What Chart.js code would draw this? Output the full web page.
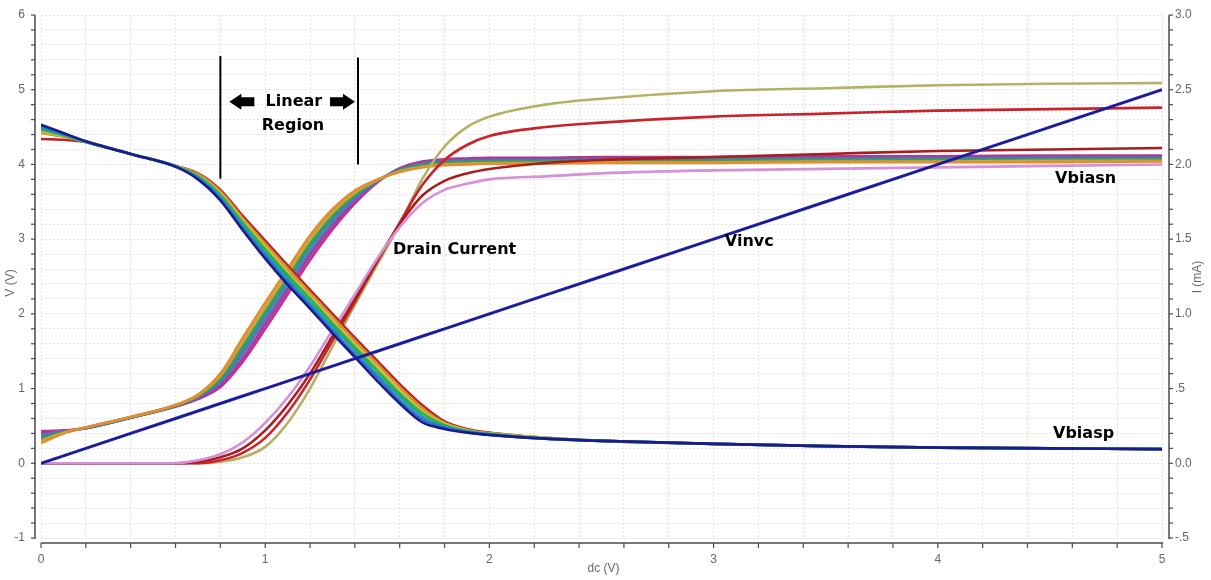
<!DOCTYPE html>
<html>
<head>
<meta charset="utf-8">
<script src="https://cdn.jsdelivr.net/npm/chart.js@4.4.1/dist/chart.umd.min.js"></script>
<style>
html,body{margin:0;padding:0;background:#fff;}
#wrap{width:1211px;height:580px;}
</style>
</head>
<body>
<div id="wrap"><canvas id="c" width="1211" height="580"></canvas></div>
<script>
// sweep points (dc, V)
const xs = [0,0.1,0.2,0.4,0.6,0.7,0.8,0.9,1.0,1.1,1.2,1.3,1.4,1.5,1.6,1.7,1.8,1.9,2.0,2.25,2.5,3.0,3.5,4.0,4.5,5.0];

// Vinvc (V)
const vinvc = [0,0.1,0.2,0.4,0.6,0.7,0.8,0.9,1.0,1.1,1.2,1.3,1.4,1.5,1.6,1.7,1.8,1.9,2.0,2.25,2.5,3.0,3.5,4.0,4.5,5.0];

// Vbiasp family (V), left to right
const vbiaspNavy   = [4.53,4.42,4.31,4.14,3.97,3.80,3.52,3.12,2.74,2.39,2.07,1.74,1.42,1.10,0.80,0.55,0.46,0.41,0.38,0.33,0.30,0.26,0.23,0.21,0.20,0.19];
const vbiaspBlue   = [4.51,4.41,4.31,4.14,3.97,3.81,3.54,3.15,2.78,2.43,2.11,1.78,1.46,1.15,0.84,0.59,0.48,0.42,0.38,0.33,0.30,0.26,0.23,0.21,0.20,0.19];
const vbiaspTeal   = [4.49,4.40,4.30,4.14,3.97,3.83,3.57,3.18,2.82,2.48,2.15,1.83,1.51,1.19,0.89,0.63,0.49,0.43,0.39,0.33,0.30,0.26,0.23,0.21,0.20,0.19];
const vbiaspGreen  = [4.47,4.39,4.30,4.14,3.98,3.84,3.59,3.22,2.86,2.52,2.20,1.87,1.55,1.24,0.93,0.67,0.51,0.43,0.39,0.33,0.30,0.26,0.23,0.21,0.20,0.19];
const vbiaspYellow = [4.44,4.38,4.30,4.14,3.98,3.85,3.61,3.25,2.90,2.56,2.24,1.91,1.59,1.28,0.97,0.70,0.53,0.44,0.40,0.34,0.30,0.26,0.23,0.21,0.20,0.19];
const vbiaspOrange = [4.42,4.37,4.30,4.14,3.98,3.87,3.64,3.28,2.94,2.61,2.28,1.96,1.64,1.33,1.02,0.74,0.54,0.45,0.40,0.34,0.30,0.26,0.23,0.21,0.20,0.19];
const vbiaspRed    = [4.34,4.33,4.30,4.14,3.98,3.88,3.66,3.31,2.98,2.65,2.32,2.00,1.68,1.37,1.06,0.78,0.56,0.46,0.41,0.34,0.30,0.26,0.23,0.21,0.20,0.19];

// Vbiasn family (V), left to right
const vbiasnOrange  = [0.27,0.40,0.48,0.62,0.78,0.92,1.20,1.68,2.15,2.60,3.05,3.40,3.65,3.80,3.90,3.96,3.99,4.00,4.01,4.01,4.02,4.02,4.03,4.03,4.03,4.04];
const vbiasnOlive   = [0.30,0.41,0.48,0.62,0.78,0.91,1.17,1.63,2.09,2.54,3.00,3.36,3.62,3.79,3.91,3.97,4.00,4.01,4.02,4.02,4.03,4.03,4.04,4.04,4.05,4.05];
const vbiasnGreen   = [0.33,0.41,0.48,0.62,0.77,0.90,1.14,1.57,2.03,2.49,2.94,3.31,3.59,3.79,3.92,3.99,4.02,4.03,4.04,4.04,4.05,4.05,4.06,4.06,4.06,4.07];
const vbiasnTeal    = [0.35,0.42,0.47,0.61,0.77,0.89,1.11,1.52,1.98,2.43,2.89,3.27,3.57,3.78,3.93,4.00,4.03,4.04,4.05,4.05,4.06,4.06,4.07,4.07,4.08,4.08];
const vbiasnSlate   = [0.38,0.43,0.47,0.61,0.77,0.88,1.08,1.47,1.92,2.37,2.83,3.22,3.54,3.77,3.93,4.01,4.04,4.05,4.06,4.06,4.07,4.07,4.08,4.08,4.09,4.09];
const vbiasnPurple  = [0.41,0.43,0.47,0.61,0.76,0.87,1.05,1.41,1.86,2.32,2.78,3.18,3.51,3.77,3.94,4.03,4.06,4.07,4.08,4.08,4.09,4.09,4.10,4.10,4.11,4.11];
const vbiasnMagenta = [0.43,0.44,0.47,0.61,0.76,0.86,1.02,1.36,1.80,2.26,2.72,3.13,3.48,3.76,3.95,4.04,4.07,4.08,4.09,4.09,4.10,4.10,4.11,4.11,4.12,4.12];

// drain current (mA), right axis
const idPink    = [0,0,0,0,0,0.02,0.06,0.14,0.27,0.44,0.65,0.89,1.13,1.37,1.58,1.74,1.83,1.87,1.90,1.92,1.94,1.96,1.97,1.98,1.99,2.00];
const idDarkRed = [0,0,0,0,0,0.01,0.04,0.10,0.22,0.39,0.60,0.85,1.10,1.36,1.60,1.79,1.89,1.94,1.97,2.01,2.03,2.05,2.07,2.09,2.10,2.11];
const idRed     = [0,0,0,0,0,0,0.02,0.07,0.17,0.34,0.56,0.82,1.08,1.35,1.61,1.86,2.03,2.13,2.19,2.25,2.28,2.32,2.34,2.36,2.37,2.38];
const idOlive   = [0,0,0,0,0,0,0.01,0.04,0.11,0.27,0.50,0.78,1.06,1.33,1.60,1.90,2.12,2.25,2.32,2.40,2.44,2.49,2.51,2.53,2.54,2.545];

const pts = arr => xs.map((x,i) => ({x: x, y: arr[i]}));

function line(label, arr, color, axis, width){
  return {
    label: label, data: pts(arr), yAxisID: axis || 'y',
    borderColor: color, borderWidth: width || 2.6,
    pointRadius: 0, fill: false, cubicInterpolationMode: 'monotone'
  };
}

const datasets = [
  Object.assign(line('Vinvc', vinvc, '#1c1c9e', 'y', 3), {cubicInterpolationMode: 'default', tension: 0}),
  line('Vbiasp 1', vbiaspNavy, '#1b1b8c'),
  line('Vbiasp 2', vbiaspBlue, '#2f72d0'),
  line('Vbiasp 3', vbiaspTeal, '#1aa3a6'),
  line('Vbiasp 4', vbiaspGreen, '#2fae48'),
  line('Vbiasp 5', vbiaspYellow, '#b7c43a'),
  line('Vbiasp 6', vbiaspOrange, '#e08c2c'),
  line('Vbiasp 7', vbiaspRed, '#b3262a'),
  line('Id 1', idPink, '#d68fd8', 'y1'),
  line('Id 2', idDarkRed, '#a81e1e', 'y1'),
  line('Id 3', idRed, '#c8222a', 'y1'),
  line('Id 4', idOlive, '#b4b064', 'y1'),
  line('Vbiasn 1', vbiasnOrange, '#e58c2e'),
  line('Vbiasn 2', vbiasnOlive, '#c9a43c'),
  line('Vbiasn 3', vbiasnGreen, '#3a9e58'),
  line('Vbiasn 4', vbiasnTeal, '#2b8f96'),
  line('Vbiasn 5', vbiasnSlate, '#6d63c7'),
  line('Vbiasn 6', vbiasnPurple, '#93449a'),
  line('Vbiasn 7', vbiasnMagenta, '#d6268f')
];

const tickFont = {family: '"Liberation Sans", Arial, sans-serif', size: 12};
const isInt = v => Math.abs(v - Math.round(v)) < 1e-6;
const gridOpts = {color: '#e2e2e2', lineWidth: 1, drawTicks: false};
const flat = s => { s.paddingTop = 0; s.paddingBottom = 0; s.paddingLeft = 0; s.paddingRight = 0; };

// axis lines, tick marks, titles and the text notes
const decor = {
  id: 'decor',
  afterDraw(chart){
    const {ctx, chartArea: a, scales} = chart;
    const sx = scales.x, sy = scales.y, sy1 = scales.y1;
    const seg = (x1,y1,x2,y2) => { ctx.beginPath(); ctx.moveTo(x1,y1); ctx.lineTo(x2,y2); ctx.stroke(); };
    ctx.save();
    ctx.strokeStyle = '#4a4a4a';
    ctx.lineWidth = 1.5;
    const lx = a.left - 6, by = a.bottom + 5, rx = a.right + 7;
    seg(lx, a.top, lx, a.bottom + 1);
    seg(a.left, by, a.right + 1, by);
    seg(rx, a.top, rx, a.bottom + 1);
    ctx.lineWidth = 1.2;
    sy.ticks.forEach(t => { const p = sy.getPixelForValue(t.value); seg(lx - 4, p, lx, p); });
    sy1.ticks.forEach(t => { const p = sy1.getPixelForValue(t.value); seg(rx, p, rx + 4, p); });
    sx.ticks.forEach(t => { const p = sx.getPixelForValue(t.value); seg(p, by, p, by + 5); });

    // axis titles
    ctx.fillStyle = '#666';
    ctx.font = '12px "Liberation Sans", Arial, sans-serif';
    ctx.textAlign = 'center';
    ctx.textBaseline = 'middle';
    ctx.fillText('dc (V)', (a.left + a.right) / 2 + 2, 569);
    ctx.save(); ctx.translate(11, 283); ctx.rotate(-Math.PI/2); ctx.fillText('V (V)', 0, 0); ctx.restore();
    ctx.save(); ctx.translate(1198, 277); ctx.rotate(-Math.PI/2); ctx.fillText('I (mA)', 0, 0); ctx.restore();

    // linear region markers
    ctx.strokeStyle = '#000';
    ctx.lineWidth = 2;
    const m1 = sx.getPixelForValue(0.8), m2 = sx.getPixelForValue(1.414);
    seg(m1, sy.getPixelForValue(5.45), m1, sy.getPixelForValue(3.81));
    seg(m2, sy.getPixelForValue(5.43), m2, sy.getPixelForValue(4.0));
    ctx.fillStyle = '#000';
    const ay = sy.getPixelForValue(4.84);
    const arrow = (tip, dir) => {
      ctx.beginPath();
      ctx.moveTo(tip, ay);
      ctx.lineTo(tip + dir*12, ay - 8);
      ctx.lineTo(tip + dir*12, ay - 4.5);
      ctx.lineTo(tip + dir*25, ay - 4.5);
      ctx.lineTo(tip + dir*25, ay + 4.5);
      ctx.lineTo(tip + dir*12, ay + 4.5);
      ctx.lineTo(tip + dir*12, ay + 8);
      ctx.closePath();
      ctx.fill();
    };
    arrow(m1 + 9, 1);
    arrow(m2 - 3, -1);

    ctx.font = 'bold 16px "DejaVu Sans", sans-serif';
    ctx.fillText('Linear', sx.getPixelForValue(1.128), sy.getPixelForValue(4.84));
    ctx.fillText('Region', sx.getPixelForValue(1.124), sy.getPixelForValue(4.51));
    ctx.textAlign = 'left';
    ctx.fillText('Drain Current', sx.getPixelForValue(1.57), sy.getPixelForValue(2.86));
    ctx.fillText('Vinvc', sx.getPixelForValue(3.05), sy.getPixelForValue(2.97));
    ctx.fillText('Vbiasn', sx.getPixelForValue(4.523), sy.getPixelForValue(3.81));
    ctx.fillText('Vbiasp', sx.getPixelForValue(4.514), sy.getPixelForValue(0.39));
    ctx.restore();
  }
};

new Chart(document.getElementById('c'), {
  type: 'line',
  data: {datasets: datasets},
  plugins: [decor],
  options: {
    responsive: false,
    animation: false,
    layout: {padding: {top: 15, left: 0, right: 0, bottom: 0}},
    plugins: {legend: {display: false}, tooltip: {enabled: false}},
    scales: {
      x: {
        type: 'linear', min: 0, max: 5,
        grid: gridOpts,
        border: {display: false, dash: [2, 2]},
        ticks: {stepSize: 0.2, maxTicksLimit: 100, autoSkip: false, maxRotation: 0, padding: 14,
          color: '#666', font: tickFont,
          callback: v => isInt(v) ? String(Math.round(v)) : ''},
        afterFit: s => { s.height = 42; flat(s); }
      },
      y: {
        position: 'left', min: -1, max: 6,
        grid: gridOpts,
        border: {display: false, dash: [2, 2]},
        ticks: {stepSize: 0.2, maxTicksLimit: 100, autoSkip: false, padding: 16,
          color: '#666', font: tickFont,
          callback: v => isInt(v) ? String(Math.round(v)) : ''},
        afterFit: s => { s.width = 41; flat(s); }
      },
      y1: {
        position: 'right', min: -0.5, max: 3.0,
        grid: {display: false, drawTicks: false},
        border: {display: false},
        ticks: {stepSize: 0.1, maxTicksLimit: 100, autoSkip: false, padding: 13,
          color: '#666', font: tickFont,
          callback: v => {
            const r = Math.round(v * 2) / 2;
            if (Math.abs(v - r) > 1e-6) return '';
            if (r !== 0 && Math.abs(r) < 1) return (r < 0 ? '-' : '') + '.5';
            return r.toFixed(1);
          }},
        afterFit: s => { s.width = 49; flat(s); }
      }
    }
  }
});
</script>
</body>
</html>
